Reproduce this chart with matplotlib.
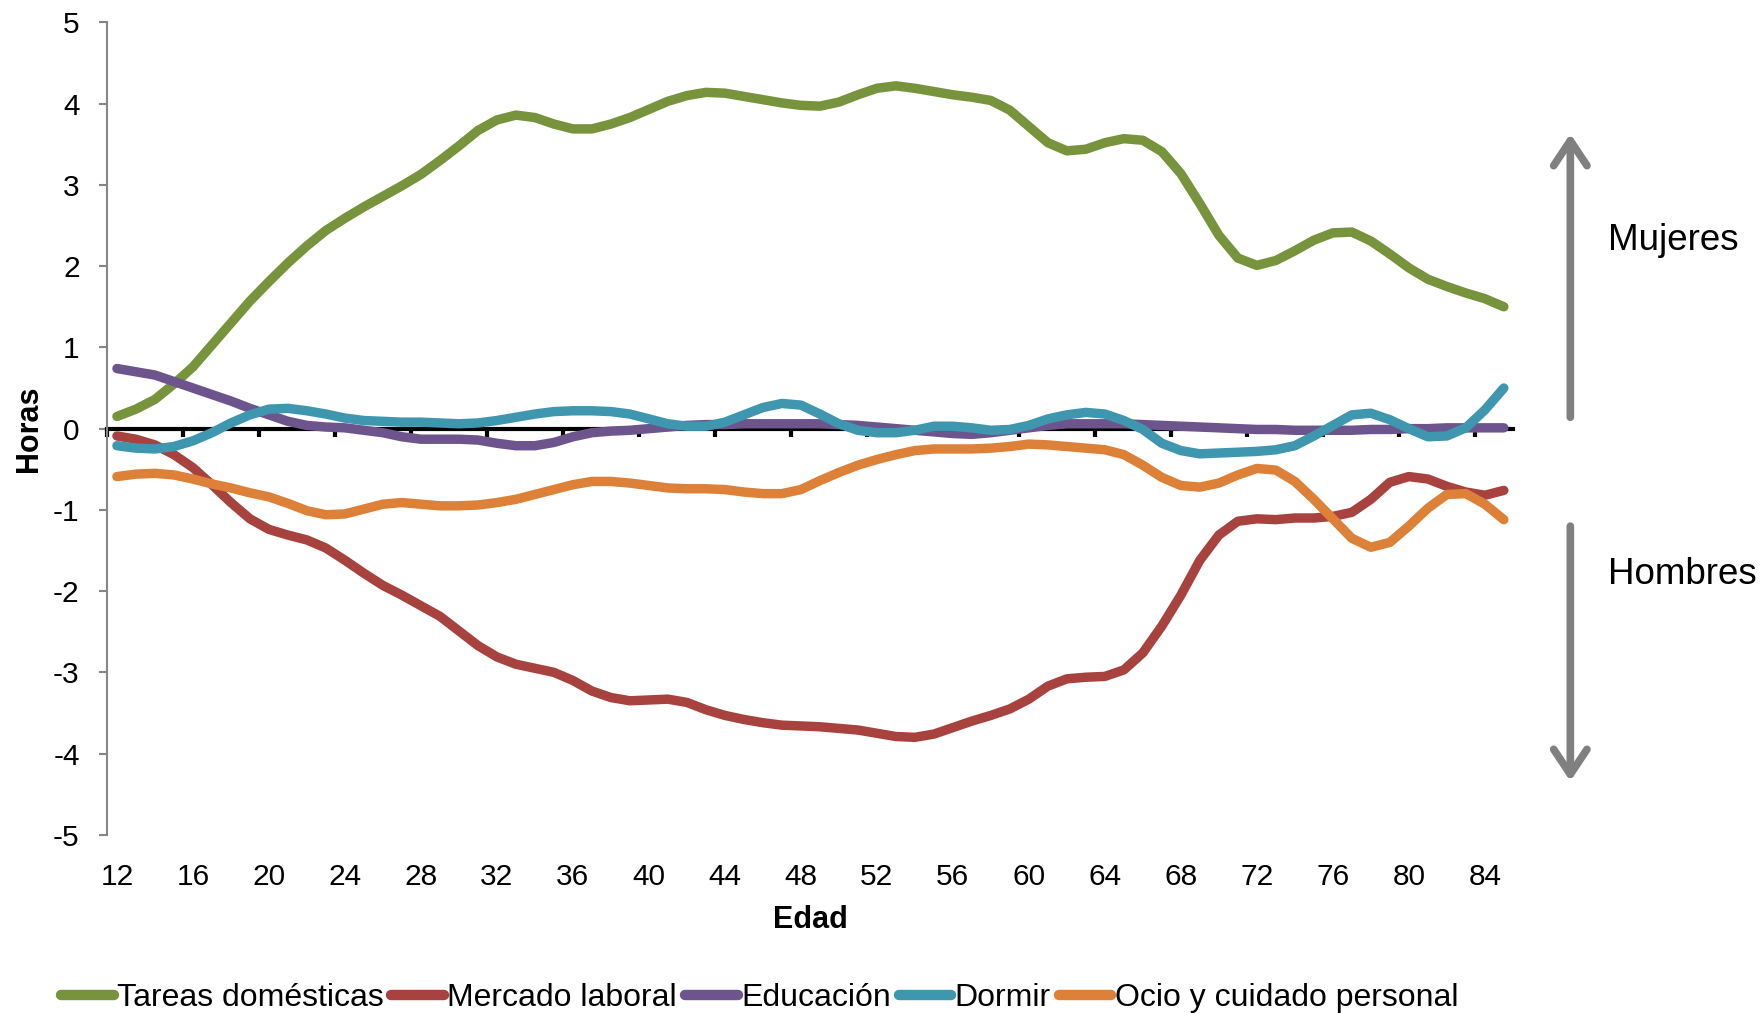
import matplotlib
matplotlib.use("Agg")
import matplotlib.pyplot as plt
from matplotlib.ticker import FixedLocator, FuncFormatter
import numpy as np

plt.rcParams['font.family'] = ['Liberation Sans', 'DejaVu Sans']

# edad 12..85
edades = list(range(12, 86))

tareas = [0.15, 0.24, 0.36, 0.55, 0.76, 1.03, 1.30, 1.57, 1.81, 2.04,
          2.25, 2.44, 2.59, 2.73, 2.86, 2.99, 3.13, 3.30, 3.48, 3.67,
          3.80, 3.86, 3.83, 3.75, 3.69, 3.69, 3.75, 3.83, 3.93, 4.03,
          4.10, 4.14, 4.13, 4.09, 4.05, 4.01, 3.98, 3.97, 4.02, 4.11,
          4.19, 4.22, 4.19, 4.15, 4.11, 4.08, 4.04, 3.92, 3.72, 3.52,
          3.42, 3.44, 3.52, 3.57, 3.55, 3.41, 3.14, 2.77, 2.38, 2.10,
          2.01, 2.07, 2.19, 2.32, 2.41, 2.42, 2.31, 2.15, 1.98, 1.84,
          1.75, 1.67, 1.60, 1.50]

mercado = [-0.09, -0.13, -0.20, -0.32, -0.48, -0.69, -0.91, -1.11, -1.24, -1.31,
           -1.37, -1.47, -1.62, -1.78, -1.93, -2.05, -2.18, -2.31, -2.49, -2.67,
           -2.81, -2.90, -2.95, -3.00, -3.10, -3.23, -3.31, -3.35, -3.34, -3.33,
           -3.37, -3.46, -3.53, -3.58, -3.62, -3.65, -3.66, -3.67, -3.69, -3.71,
           -3.75, -3.79, -3.80, -3.76, -3.68, -3.60, -3.53, -3.45, -3.33, -3.17,
           -3.08, -3.06, -3.05, -2.97, -2.76, -2.43, -2.05, -1.62, -1.31, -1.14,
           -1.11, -1.12, -1.10, -1.10, -1.08, -1.03, -0.87, -0.66, -0.59, -0.62,
           -0.71, -0.78, -0.82, -0.76]

educacion = [0.74, 0.70, 0.66, 0.58, 0.50, 0.42, 0.34, 0.25, 0.17, 0.09,
             0.04, 0.02, 0.01, -0.02, -0.05, -0.10, -0.13, -0.13, -0.13, -0.14,
             -0.18, -0.21, -0.21, -0.17, -0.10, -0.05, -0.03, -0.02, 0.00, 0.02,
             0.04, 0.05, 0.05, 0.06, 0.06, 0.06, 0.06, 0.06, 0.05, 0.04,
             0.02, 0.00, -0.02, -0.04, -0.06, -0.07, -0.05, -0.02, 0.01, 0.04,
             0.06, 0.06, 0.06, 0.06, 0.05, 0.04, 0.03, 0.02, 0.01, 0.00,
             -0.01, -0.01, -0.02, -0.02, -0.02, -0.02, -0.01, -0.01, 0.00, 0.00,
             0.01, 0.01, 0.01, 0.01]

dormir = [-0.21, -0.24, -0.25, -0.22, -0.15, -0.05, 0.07, 0.17, 0.24, 0.25,
          0.22, 0.18, 0.13, 0.10, 0.09, 0.08, 0.08, 0.07, 0.06, 0.07,
          0.10, 0.14, 0.18, 0.21, 0.22, 0.22, 0.21, 0.18, 0.12, 0.06,
          0.03, 0.03, 0.08, 0.17, 0.26, 0.31, 0.29, 0.18, 0.06, -0.02,
          -0.05, -0.05, -0.02, 0.03, 0.03, 0.01, -0.02, -0.01, 0.04, 0.12,
          0.17, 0.20, 0.18, 0.10, -0.01, -0.18, -0.27, -0.31, -0.30, -0.29,
          -0.28, -0.26, -0.21, -0.09, 0.04, 0.17, 0.19, 0.11, 0.00, -0.10,
          -0.09, 0.01, 0.23, 0.50]

ocio = [-0.59, -0.56, -0.55, -0.57, -0.62, -0.68, -0.73, -0.79, -0.84, -0.92,
        -1.01, -1.06, -1.05, -0.99, -0.93, -0.91, -0.93, -0.95, -0.95, -0.94,
        -0.91, -0.87, -0.81, -0.75, -0.69, -0.65, -0.65, -0.67, -0.70, -0.73,
        -0.74, -0.74, -0.75, -0.78, -0.80, -0.80, -0.75, -0.64, -0.54, -0.45,
        -0.38, -0.32, -0.27, -0.25, -0.25, -0.25, -0.24, -0.22, -0.19, -0.20,
        -0.22, -0.24, -0.26, -0.32, -0.45, -0.60, -0.70, -0.72, -0.67, -0.57,
        -0.49, -0.51, -0.65, -0.87, -1.11, -1.35, -1.46, -1.40, -1.20, -0.98,
        -0.81, -0.80, -0.93, -1.12]

series = [
    ('Tareas domésticas', tareas, '#77933C'),
    ('Mercado laboral', mercado, '#A8423F'),
    ('Educación', educacion, '#6D548D'),
    ('Dormir', dormir, '#3E97AF'),
    ('Ocio y cuidado personal', ocio, '#DD8038'),
]

fig = plt.figure(figsize=(17.64, 10.13), dpi=100)
ax = fig.add_axes([0.0609, 0.1759, 0.797, 0.8019])

for name, vals, col in series:
    ax.plot(edades, vals, color=col, lw=6.8, label=name,
            solid_capstyle='round', solid_joinstyle='round', zorder=3)

ax.set_xlim(11.5, 85.5)
ax.set_ylim(-5, 5)

# eje de categorias en y = 0
ax.spines['top'].set_position(('data', 0))
ax.spines['top'].set_color('black')
ax.spines['top'].set_linewidth(3)
ax.spines['top'].set_zorder(2)
ax.spines['bottom'].set_visible(False)
ax.spines['right'].set_visible(False)
ax.spines['left'].set_color('#868686')
ax.spines['left'].set_linewidth(1.5)

ax.xaxis.set_major_locator(FixedLocator(list(range(12, 85, 4))))
ax.xaxis.set_minor_locator(FixedLocator(list(np.arange(11.5, 84, 4))))
ax.tick_params(axis='x', which='major', top=False, bottom=True, length=0,
               pad=20, labelsize=21.5)
ax.tick_params(axis='x', which='minor', top=True, bottom=False, direction='in',
               length=6, width=3, color='black')

ax.set_yticks(range(-5, 6))
ax.yaxis.set_major_formatter(FuncFormatter(lambda v, p: '%d' % v))
ax.tick_params(axis='y', direction='out', length=6, width=1.5, color='#868686',
               pad=14, labelsize=21.5)

ax.set_ylabel('Horas', fontsize=22, fontweight='bold')
ax.yaxis.set_label_coords(-0.045, 0.5)
ax.set_xlabel('Edad', fontsize=22, fontweight='bold')
ax.xaxis.set_label_coords(0.5, -0.087)

# flechas a la derecha
flecha = dict(arrowstyle='->,head_length=0.9,head_width=0.6', lw=5.5,
              color='#808080', shrinkA=0, shrinkB=0, mutation_scale=20)
ax.annotate('', xy=(88.5, 3.63), xytext=(88.5, 0.14), arrowprops=flecha,
            annotation_clip=False)
ax.annotate('', xy=(88.5, -4.34), xytext=(88.5, -1.20), arrowprops=flecha,
            annotation_clip=False)
ax.text(90.5, 2.32, 'Mujeres', fontsize=26.5, va='center', clip_on=False)
ax.text(90.5, -1.79, 'Hombres', fontsize=26.5, va='center', clip_on=False)

leg = fig.legend(loc='center left', bbox_to_anchor=(0.0345, 0.015), ncol=5,
                 frameon=False, fontsize=23, handlelength=1.65,
                 handletextpad=0.1, columnspacing=0.25, borderpad=0,
                 borderaxespad=0)
for h in leg.get_lines():
    h.set_linewidth(7.5)

fig.savefig('out.png', dpi=100)
